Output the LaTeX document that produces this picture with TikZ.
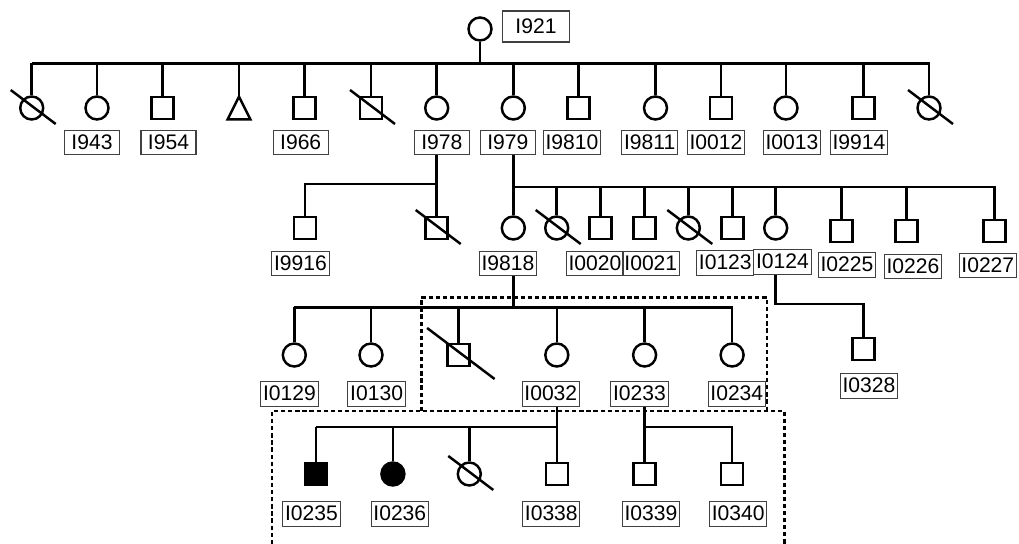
\documentclass[tikz,border=0pt]{standalone}
\usepackage{fontspec}
\setmainfont{Liberation Sans}
\newcommand\deceased[2][1]{\draw[kin] (#2) ++(-21*#1,-18*#1) -- ++(45*#1,34*#1);}
\begin{document}
\begin{tikzpicture}[x=0.02cm,y=-0.02cm,
        kin/.style={line width=1.4pt},
        fem/.style={circle,draw,line width=1.4pt,minimum size=0.46cm,inner sep=0pt},
        mal/.style={rectangle,draw,line width=1.4pt,minimum size=0.44cm,inner sep=0pt},
        aff/.style={fill=black},
        unk/.style={minimum size=0.44cm,inner sep=0pt},
        tag/.style={draw=black!75,line width=0.6pt,font=\fontsize{12}{14}\selectfont,inner xsep=1.3pt,inner ysep=2pt,text height=8.8pt,text depth=1pt,minimum width=1.1cm},
        dots/.style={line width=1.3pt,dash pattern=on 0.085cm off 0.057cm}]
    \useasboundingbox (0,0) rectangle (1019,544);
    % generation I
    \node[fem] (n921) at (480,29) {};
    \node[tag,minimum width=1.33cm,minimum height=0.62cm] (t921) at (536,26.5) {I921};
    \coordinate (s921) at (31.7,63.5);
    \foreach \n/\x/\s in {a1/31.7/fem,a2/97/fem,a3/162.7/mal,a5/304.7/mal,a6/371/mal,a7/436.7/fem,a8/513.3/fem,
            a9/578.7/mal,a10/655.5/fem,a11/721/mal,a12/786/fem,a13/863.3/mal,a14/929/fem}
        \node[\s] (\n) at (\x,108) {};
    \node[unk] (a4) at (239,108) {};
    \draw[kin] (a4.north) -- (a4.south east) -- (a4.south west) -- cycle;
    \draw[kin] (n921.south) |- (s921);
    \foreach \i in {1,...,14}
        \draw[kin] (a\i.north) |- (s921);
    \deceased{a1}
    \deceased{a6}
    \deceased{a14}
    \foreach \n/\x in {943/92,954/168.5,966/300.7,978/441.8,979/507.8,9810/572,9811/649.7,0012/716,0013/792,9914/859}
        \node[tag] (t\n) at (\x,142.5) {I\n};
    % generation II
    \node[mal] (b1) at (305,228) {};
    \node[mal] (b2) at (436.7,228) {};
    \coordinate (s978) at (436.7,184);
    \draw[kin] (a7 |- t978.south) -- (b2.north);
    \draw[kin] (b1.north) |- (s978);
    \deceased{b2}
    \foreach \n/\x/\s/\y in {b3/513.3/fem/228,b4/556.7/fem/228,b5/600.7/mal/228,b6/644.3/mal/228,b7/688.3/fem/228,
            b8/732.3/mal/228,b9/775.7/fem/228,b10/841.3/mal/231,b11/906.7/mal/231,b12/994.3/mal/231}
        \node[\s] (\n) at (\x,\y) {};
    \coordinate (s979) at (513.3,187);
    \draw[kin] (a8 |- t979.south) -- (b3.north);
    \foreach \i in {4,...,12}
        \draw[kin] (b\i.north) |- (s979);
    \deceased{b4}
    \deceased{b7}
    \foreach \n/\x/\y in {9916/300.5/263.3,9818/508/263.5,0020/595/263.5,0021/650.8/263.5,0123/725.3/263,
            0124/782.5/262,0225/847/265,0226/913/266.7,0227/987.8/265.5}
        \node[tag] (t\n) at (\x,\y) {I\n};
    % generation III
    \foreach \n/\x/\s in {c1/294.3/fem,c2/371/fem,c3/458.6/mal,c4/556.8/fem,c5/644.6/fem,c6/732.1/fem}
        \node[\s] (\n) at (\x,355) {};
    \coordinate (s9818) at (294.3,307.5);
    \draw[kin] (b3 |- t9818.south) -- (b3 |- s9818);
    \foreach \i in {1,...,6}
        \draw[kin] (c\i.north) |- (s9818);
    \deceased[1.5]{c3}
    \node[mal] (c7) at (863.3,349) {};
    \coordinate (k124) at (776.7,304);
    \draw[kin] (b9 |- t0124.south) -- (b9 |- k124) -| (c7.north);
    \foreach \n/\x/\y in {0129/289.5/394,0130/376.6/394,0032/550.8/394,0233/639.5/394,0234/736.8/394,0328/869/386}
        \node[tag] (t\n) at (\x,\y) {I\n};
    % generation IV
    \node[mal,aff] (d1) at (316,474) {};
    \node[fem,aff] (d2) at (392.9,474) {};
    \node[fem] (d3) at (469.3,474) {};
    \node[mal] (d4) at (556.8,474) {};
    \node[mal] (d5) at (644.6,474) {};
    \node[mal] (d6) at (732.1,474) {};
    \coordinate (s0032) at (316,426.8);
    \coordinate (s0233) at (644.6,426.8);
    \draw[kin] (c4 |- t0032.south) -- (d4.north);
    \draw[kin] (c5 |- t0233.south) -- (d5.north);
    \foreach \i in {1,...,4}
        \draw[kin] (d\i.north) |- (s0032);
    \draw[kin] (d6.north) |- (s0233);
    \deceased{d3}
    \foreach \n/\x in {0235/311.4,0236/399.8,0338/551.3,0339/651,0340/738.2}
        \node[tag] (t\n) at (\x,514) {I\n};
    % dotted frames
    \draw[dots] (421.4,411) |- (766.8,297.5) -- (766.8,411);
    \draw[dots] (272.1,544) |- (784.6,411) -- (784.6,544);
\end{tikzpicture}
\end{document}
